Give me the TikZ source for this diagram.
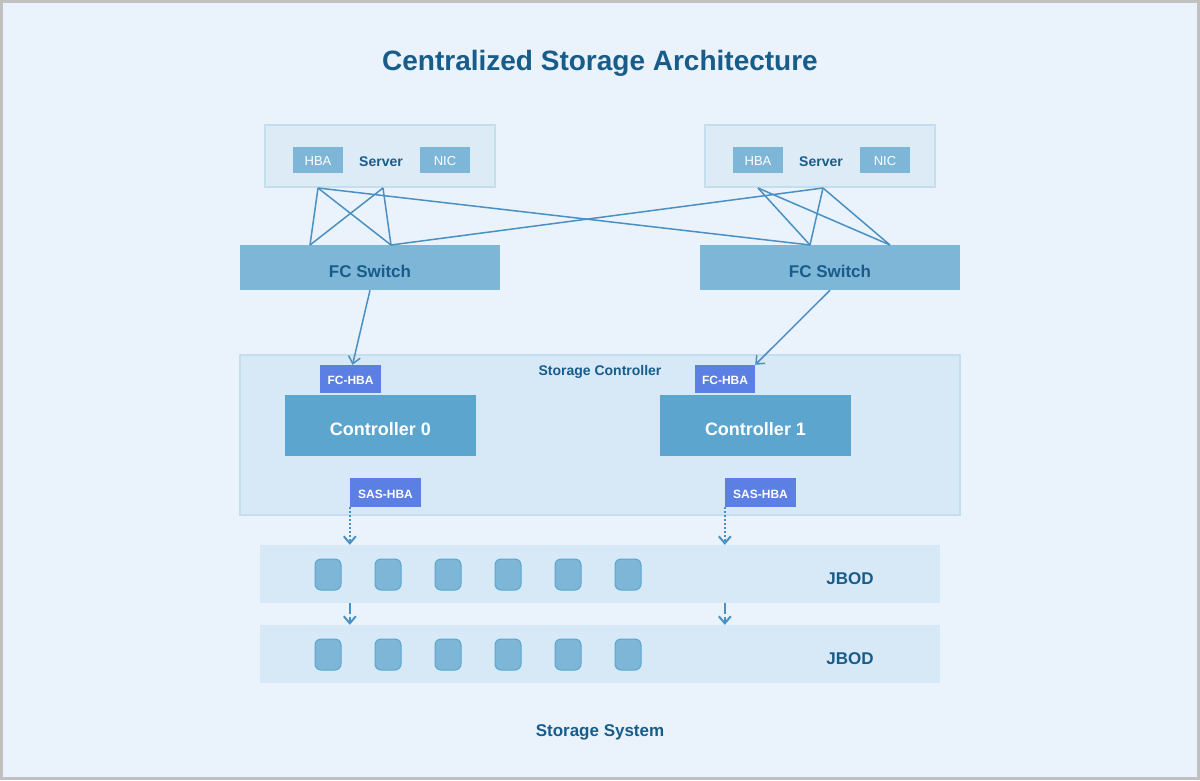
\documentclass[tikz,border=0pt]{standalone}
\usepackage{fontspec}
\setmainfont{Liberation Sans}
\usepackage{tikz}
\usetikzlibrary{shapes}
\usetikzlibrary{arrows.meta}
\usetikzlibrary{positioning}
\definecolor{bgblue}{RGB}{234,242,251}
\definecolor{edgegrey}{RGB}{192,192,192}
\definecolor{titleblue}{RGB}{24,92,138}
\definecolor{paleblue}{RGB}{221,235,246}
\definecolor{paleedge}{RGB}{197,222,238}
\definecolor{panelblue}{RGB}{215,233,246}
\definecolor{midblue}{RGB}{126,182,216}
\definecolor{ctrlblue}{RGB}{91,165,207}
\definecolor{portblue}{RGB}{91,127,227}
\definecolor{linkblue}{RGB}{74,144,194}
\begin{document}
\begin{tikzpicture}[x=1pt, y=-1pt, >={Straight Barb[length=7pt, width=12pt]}, font=\bfseries\color{titleblue},
  sized/.style 2 args={inner sep=0pt, minimum width=#1, minimum height=#2},
  serverbox/.style={sized={230pt}{62pt}, draw=paleedge, line width=2pt, fill=paleblue},
  cardbox/.style={sized={50pt}{26pt}, fill=midblue, text=white, text height=11.3pt, text depth=0pt, font=\fontsize{13}{15}\selectfont},
  switchbox/.style={sized={260pt}{45pt}, fill=midblue, text height=20.2pt, text depth=0pt, font=\bfseries\fontsize{17}{20}\selectfont\color{titleblue}},
  hbabox/.style={sized={#1}{28pt}, fill=portblue, text=white, text height=11.6pt, text depth=0pt, font=\bfseries\fontsize{12}{14}\selectfont},
  ctrlbox/.style={sized={191pt}{61pt}, fill=ctrlblue, text=white, text height=20.9pt, text depth=0pt, font=\bfseries\fontsize{18}{21}\selectfont},
  shelf/.style={sized={680pt}{58pt}, fill=panelblue},
  disk/.style={sized={26pt}{31pt}, rounded corners=6pt, draw=ctrlblue, line width=1pt, fill=midblue},
  link/.style={draw=linkblue, line width=1.5pt},
  biglabel/.style={font=\bfseries\fontsize{17}{20}\selectfont\color{titleblue}}]
\useasboundingbox (0,0) rectangle (1200,780);
\draw[edgegrey, line width=3pt, fill=bgblue] (1.5,1.5) rectangle (1198.5,778.5);
\node[font=\bfseries\fontsize{28}{32}\selectfont\color{titleblue}] (title) at (600,63) {Centralized Storage Architecture};
\node[serverbox] (srvL) at (380,156) {};
\node[serverbox] (srvR) at (820,156) {};
\node[cardbox] (hbaL) at (318,160) {HBA};
\node[cardbox] (nicL) at (445,160) {NIC};
\node[font=\bfseries\fontsize{14}{16}\selectfont\color{titleblue}] (srvtxtL) at (381,162) {Server};
\node[cardbox] (hbaR) at (758,160) {HBA};
\node[cardbox] (nicR) at (885,160) {NIC};
\node[font=\bfseries\fontsize{14}{16}\selectfont\color{titleblue}] (srvtxtR) at (821,162) {Server};
\node[switchbox] (swL) at (370,267.5) {FC Switch};
\node[switchbox] (swR) at (830,267.5) {FC Switch};
\coordinate (pL1) at (318,188);
\coordinate (pL2) at (383,188);
\coordinate (pR1) at (758,188);
\coordinate (pR2) at (823,188);
\coordinate (qL1) at (310,245);
\coordinate (qL2) at (391,245);
\coordinate (qR1) at (810,245);
\coordinate (qR2) at (890,245);
\draw[link] (pL1) -- (qL1);
\draw[link] (pL1) -- (qL2);
\draw[link] (pL2) -- (qL1);
\draw[link] (pL2) -- (qL2);
\draw[link] (pL1) -- (qR1);
\draw[link] (pR2) -- (qL2);
\draw[link] (pR1) -- (qR1);
\draw[link] (pR1) -- (qR2);
\draw[link] (pR2) -- (qR1);
\draw[link] (pR2) -- (qR2);
\node[sized={720pt}{160pt}, draw=paleedge, line width=2pt, fill=panelblue] (ctrl) at (600,435) {};
\node[font=\bfseries\fontsize{14}{16}\selectfont\color{titleblue}] (ctrltxt) at (600,372) {Storage Controller};
\node[hbabox=61pt] (fcL) at (350.5,379) {FC-HBA};
\node[hbabox=60pt] (fcR) at (725,379) {FC-HBA};
\node[ctrlbox] (c0) at (380.5,425.5) {Controller 0};
\node[ctrlbox] (c1) at (755.5,425.5) {Controller 1};
\node[hbabox=71pt, minimum height=29pt] (sasL) at (385.5,492.5) {SAS-HBA};
\node[hbabox=71pt, minimum height=29pt] (sasR) at (760.5,492.5) {SAS-HBA};
\draw[link, ->] (swL.south) -- ([xshift=2pt]fcL.north);
\draw[link, ->] (swR.south) -- (fcR.north east);
\node[shelf] (jbodA) at (600,574) {};
\node[shelf] (jbodB) at (600,654) {};
\foreach \i in {0,...,5} {
  \node[disk] (diskA\i) at (328+60*\i,574.5) {};
  \node[disk] (diskB\i) at (328+60*\i,654.5) {};
}
\node[biglabel] (jbodtxtA) at (850,579) {JBOD};
\node[biglabel] (jbodtxtB) at (850,659) {JBOD};
\draw[link, ->, line width=2pt, dash pattern=on 2pt off 2pt] (sasL.south west) -- (sasL.south west |- jbodA.north);
\draw[link, ->, line width=2pt, dash pattern=on 2pt off 2pt] (sasR.south west) -- (sasR.south west |- jbodA.north);
\draw[link, ->, line width=2pt, dash pattern=on 11pt off 3pt] (sasL.west |- jbodA.south) -- (sasL.west |- jbodB.north);
\draw[link, ->, line width=2pt, dash pattern=on 11pt off 3pt] (sasR.west |- jbodA.south) -- (sasR.west |- jbodB.north);
\node[biglabel] (systxt) at (600,732) {Storage System};
\end{tikzpicture}
\end{document}
